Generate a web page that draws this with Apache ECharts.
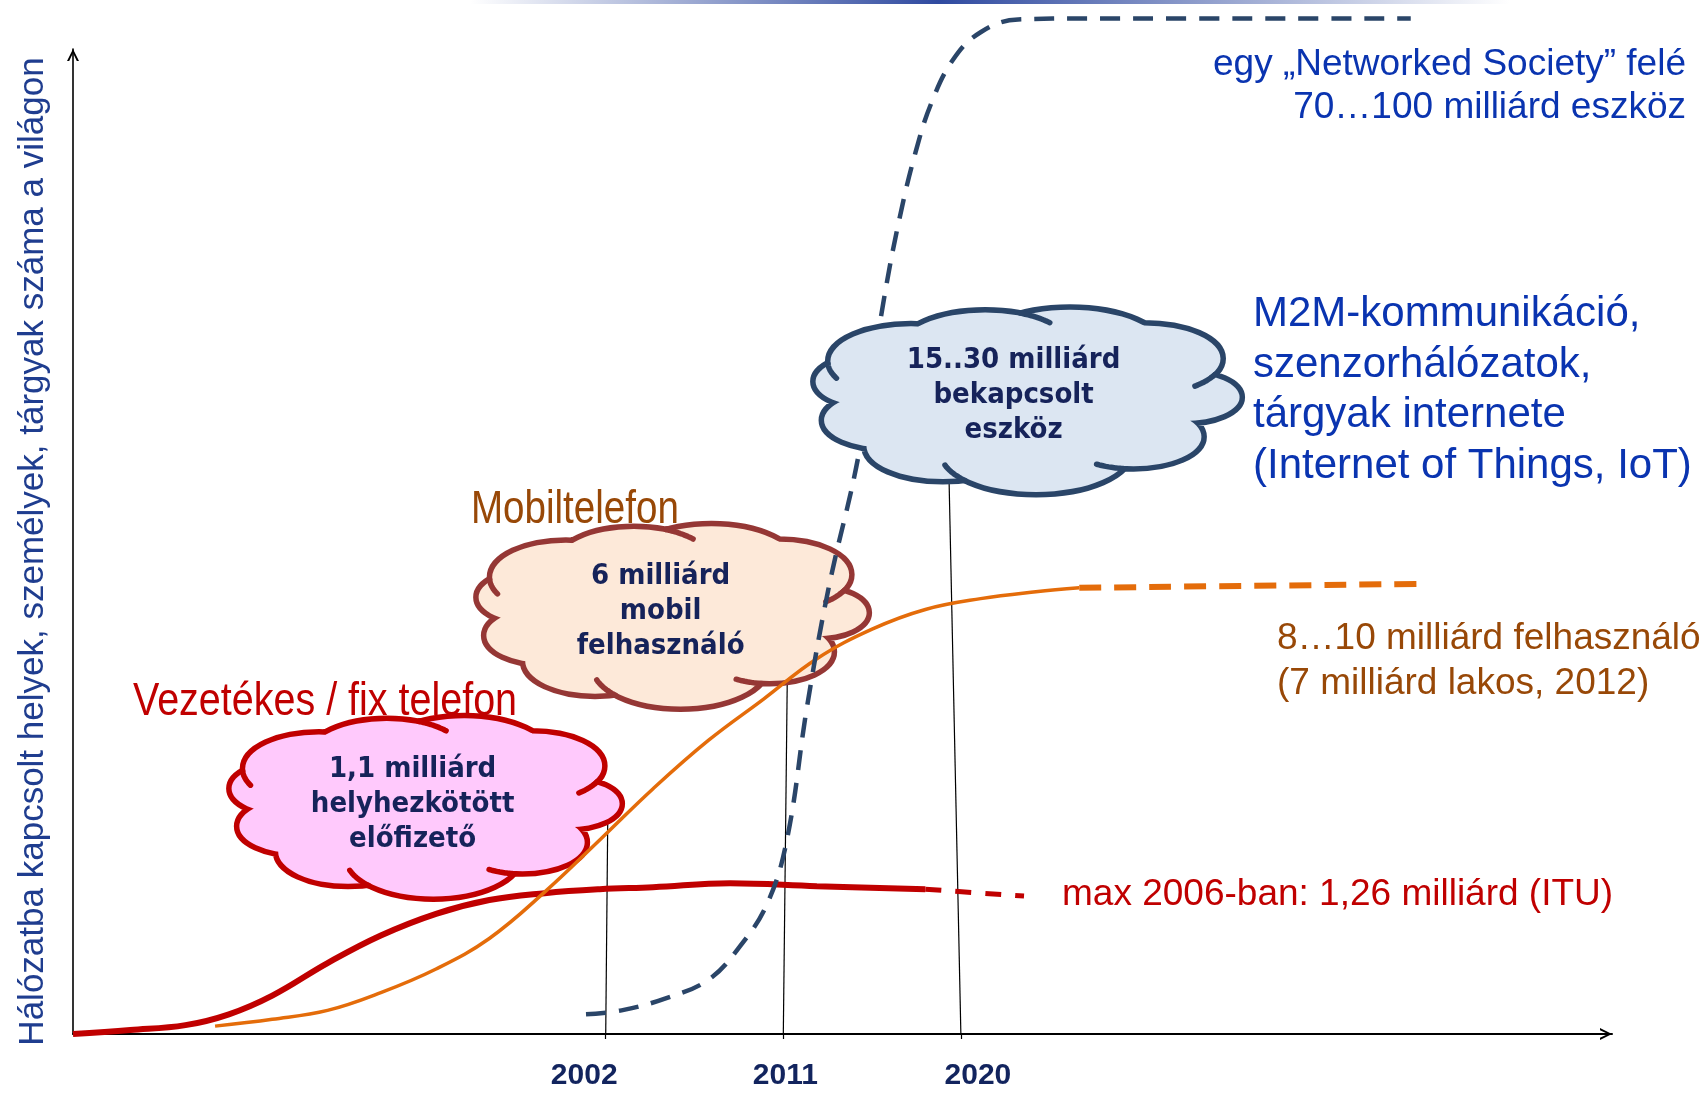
<!DOCTYPE html>
<html><head><meta charset="utf-8">
<script src="https://cdn.jsdelivr.net/npm/echarts@6/dist/echarts.min.js"></script>
<style>html,body{margin:0;padding:0;background:#fff}#c{width:1708px;height:1093px}</style>
</head><body><div id="c"></div>
<script>
// ---------------- data (x = year, y = relative number of connected things, 0..100) ----------------
const yearTicks = [2002, 2011, 2020];
const fixedSolid = [[1975.0,0],[1977.9,0.4],[1980.7,0.9],[1982.9,2.0],[1985.1,3.9],[1987.9,7.2],[1990.6,10.0],[1993.4,12.2],[1996.1,13.6],[1998.9,14.3],[2001.7,14.7],[2004.4,14.9],[2008.3,15.3],[2012.7,15.0],[2018.2,14.7]];
const fixedDashed = [[2018.2,14.7],[2023.2,14.0]];
const mobileSolid = [[1982.2,0.8],[1985.1,1.5],[1987.9,2.4],[1990.6,4.2],[1993.4,6.6],[1996.1,9.7],[1998.9,14.4],[2001.8,19.9],[2004.4,24.9],[2007.2,29.8],[2010.0,34.0],[2012.7,38.1],[2015.5,41.1],[2018.2,43.1],[2021.0,44.2],[2023.8,44.9],[2026.0,45.3]];
const mobileDashed = [[2026.0,45.3],[2043.6,45.7]];
const iotDashed = [[2001.0,2.0],[2002.8,2.4],[2005.0,3.6],[2007.2,5.5],[2008.8,8.9],[2010.2,13.3],[2011.2,19.9],[2012.2,33.2],[2013.3,45.3],[2014.8,58.6],[2016.1,74.6],[2016.9,82.9],[2017.7,89.5],[2018.5,94.5],[2019.6,98.9],[2021.0,101.7],[2022.9,103.0],[2026.5,103.1],[2042.8,103.1]];
const yearLineTops = [[2002.1,21.3],[2011.2,35.9],[2019.4,56.3]];
const yearLineBottoms = [[2002,0],[2011,0],[2020,0]];
const cloudAnchors = [[1992.87,23.1],[2005.39,42.49],[2023.38,64.37]];
const cloudTexts = [['1,1 milliárd','helyhezkötött','előfizető'],['6 milliárd','mobil','felhasználó'],['15..30 milliárd','bekapcsolt','eszköz']];
const yTitle = 'Hálózatba kapcsolt helyek, személyek, tárgyak száma a világon';
const fixedTitle = 'Vezetékes / fix telefon';
const mobileTitle = 'Mobiltelefon';
const societyLines = ['egy „Networked Society” felé','70…100 milliárd eszköz'];
const m2mLines = ['M2M-kommunikáció,','szenzorhálózatok,','tárgyak internete','(Internet of Things, IoT)'];
const usersLines = ['8…10 milliárd felhasználó','(7 milliárd lakos, 2012)'];
const fixedMaxLine = 'max 2006-ban: 1,26 milliárd (ITU)';

// ---------------- styles ----------------
const RED = '#c00000', ORANGE = '#e46c0a', NAVY = '#2a4568', BROWN = '#984807', BLUE = '#0a34b0';
const cloudStyles = [
  {a:194, b:90, fill:'#ffc9fc', stroke:'#c00000', dx:-13, dy:-2},
  {a:194, b:91, fill:'#fde9d9', stroke:'#953735', dx:-12, dy:-4},
  {a:212, b:92, fill:'#dce6f2', stroke:'#2a4568', dx:-14, dy:-4}
];
// cloud bumps in a unit box: [cx, cy, r]
const bumps = [[-0.72,-0.20,0.28],[-0.66,0.22,0.30],[-0.40,0.50,0.36],[0.04,0.56,0.44],[0.50,0.40,0.32],[0.74,-0.03,0.26],[0.55,-0.45,0.36],[0.20,-0.54,0.44],[-0.20,-0.55,0.40],[-0.55,-0.42,0.38],[0,0,0.66]];
// interior curls: bump A continues into bump B
const curls = [[9,0],[3,2],[4,3],[6,5],[8,7]];
const CLOUD_W = 5.5;
const CLOUD_FONT = 'bold 29px "DejaVu Sans Condensed", "DejaVu Sans", sans-serif';
const CLOUD_TEXT = '#16235a';

function ellipsePath(x, y, rx, ry) {
  return 'M' + (x - rx) + ' ' + y + ' A' + rx + ' ' + ry + ' 0 1 0 ' + (x + rx) + ' ' + y +
         ' A' + rx + ' ' + ry + ' 0 1 0 ' + (x - rx) + ' ' + y + ' Z ';
}
function inside(p, e) {
  const dx = (p[0] - e.x) / e.rx, dy = (p[1] - e.y) / e.ry;
  return dx * dx + dy * dy < 1;
}
function curlPath(ells, ai, bi) {
  const A = ells[ai], B = ells[bi], N = 720, delta = 0.42;
  const pt = function (t) { return [A.x + A.rx * Math.cos(t), A.y + A.ry * Math.sin(t)]; };
  const outer = function (p) {
    for (let k = 0; k < ells.length; k++) { if (k !== ai && k !== bi && inside(p, ells[k])) return false; }
    return true;
  };
  for (let j = 0; j < N; j++) {
    for (let dir = -1; dir <= 1; dir += 2) {
      const t0 = j / N * 2 * Math.PI, t1 = t0 + dir * 2 * Math.PI / N;
      const p0 = pt(t0), p1 = pt(t1);
      if (!inside(p0, B) && outer(p0) && inside(p1, B)) {
        let d = '';
        for (let s = 0; s <= 20; s++) {
          const q = pt(t0 + dir * delta * s / 20);
          d += (s ? 'L' : 'M') + q[0].toFixed(1) + ' ' + q[1].toFixed(1) + ' ';
        }
        return d;
      }
    }
  }
  return '';
}
function cloudRender(params, api) {
  const i = api.value(2);
  const st = cloudStyles[i];
  const c = api.coord([api.value(0), api.value(1)]);
  const ells = bumps.map(function (b) { return {x:c[0] + b[0] * st.a, y:c[1] + b[1] * st.b, rx:b[2] * st.a, ry:b[2] * st.b}; });
  const grown = ells.map(function (e) { return {x:e.x, y:e.y, rx:e.rx + CLOUD_W / 2, ry:e.ry + CLOUD_W / 2}; });
  let d = '';
  ells.forEach(function (e) { d += ellipsePath(e.x, e.y, e.rx, e.ry); });
  let cd = '';
  curls.forEach(function (p) { cd += curlPath(grown, p[0], p[1]); });
  const children = [
    {type:'path', shape:{pathData:d}, style:{fill:st.fill, stroke:st.stroke, lineWidth:CLOUD_W * 2}},
    {type:'path', shape:{pathData:d}, style:{fill:st.fill, stroke:null}},
    {type:'path', shape:{pathData:cd}, style:{fill:null, stroke:st.stroke, lineWidth:CLOUD_W, lineCap:'round'}}
  ];
  cloudTexts[i].forEach(function (t, k) {
    children.push({type:'text', x:c[0] + st.dx, y:c[1] + st.dy + (k - 1) * 35,
      style:{text:t, font:CLOUD_FONT, fill:CLOUD_TEXT, textAlign:'center', textVerticalAlign:'middle', align:'center', verticalAlign:'middle'}});
  });
  return {type:'group', children:children};
}

function lineSeries(data, color, width, type, z) {
  return {type:'line', data:data, smooth:0.4, showSymbol:false, symbol:'none', clip:false, z:z || 3,
    lineStyle:{color:color, width:width, type:type || 'solid', cap:'butt'}, silent:true};
}

const series = [];
yearLineTops.forEach(function (t, k) {
  series.push({type:'line', data:[t, yearLineBottoms[k]], showSymbol:false, symbol:'none', clip:false, z:1,
    lineStyle:{color:'#000', width:1.2}, silent:true});
});
series.push({type:'custom', renderItem:cloudRender, z:2, silent:true,
  data:cloudAnchors.slice(0,2).map(function (p, k) { return [p[0], p[1], k]; })});
series.push(lineSeries(fixedSolid, RED, 6));
series.push(lineSeries(fixedDashed, RED, 5, [16,14]));
series.push(lineSeries(mobileSolid, ORANGE, 3.5));
series.push(lineSeries(mobileDashed, ORANGE, 6, [22,13]));
series.push(lineSeries(iotDashed, NAVY, 4.5, [20,13]));
series.push({type:'custom', renderItem:cloudRender, z:6, silent:true,
  data:[[cloudAnchors[2][0], cloudAnchors[2][1], 2]]});

function txt(x, y, text, size, color, align, scaleX) {
  return {type:'text', x:x, y:y, scaleX:scaleX || 1, z:100,
    style:{text:text, font:size + 'px "Liberation Sans", Arial, sans-serif', fill:color,
      textAlign:align, textVerticalAlign:'middle', align:align, verticalAlign:'middle'}};
}
const graphics = [
  {type:'rect', z:100, shape:{x:470, y:0, width:1040, height:4},
   style:{fill:new echarts.graphic.LinearGradient(0,0,1,0,[{offset:0,color:'rgba(47,74,160,0)'},{offset:0.45,color:'#2f4aa0'},{offset:1,color:'rgba(47,74,160,0)'}])}},
  txt(133, 702, fixedTitle, 47, RED, 'left', 0.84),
  txt(471, 510, mobileTitle, 47, BROWN, 'left', 0.82),
  txt(1062, 895, fixedMaxLine, 37, RED, 'left')
];
[65, 108].forEach(function (y, k) { graphics.push(txt(1686, y, societyLines[k], 37, BLUE, 'right')); });
[314, 365, 415, 466].forEach(function (y, k) { graphics.push(txt(1253, y, m2mLines[k], 42, BLUE, 'left')); });
[639, 684].forEach(function (y, k) { graphics.push(txt(1277, y, usersLines[k], 37, BROWN, 'left')); });

const chevron = 'path://M0,12 L6,0 L12,12 L9.8,12 L6,4 L2.2,12 Z';
const labelKey = {2002:'a', 2011:'b', 2020:'c'};
const yearFont = {fontSize:30, fontWeight:'bold', color:'#12245e', fontFamily:'"Liberation Sans", Arial, sans-serif'};

const option = {
  animation:false,
  backgroundColor:'#fff',
  grid:{left:73, right:96, top:49, bottom:59},
  xAxis:{type:'value', min:1975, max:2053,
    axisLine:{show:true, lineStyle:{color:'#000', width:2}, symbol:['none', chevron], symbolSize:[14,12], symbolOffset:[0,-6]},
    axisTick:{show:true, customValues:yearTicks, length:5, lineStyle:{color:'#000', width:1.2}},
    axisLabel:{show:true, customValues:yearTicks, margin:27,
      formatter:function (v) { return '{' + labelKey[v] + '|' + v + '}'; },
      rich:{a:Object.assign({padding:[0,43,0,0]}, yearFont), b:Object.assign({padding:[0,0,0,4]}, yearFont), c:Object.assign({padding:[0,0,0,34]}, yearFont)}},
    splitLine:{show:false}},
  yAxis:{type:'value', min:0, max:100,
    name:yTitle, nameLocation:'middle', nameGap:22, nameRotate:90,
    nameTextStyle:{fontSize:35, color:'#1f3d8f', fontFamily:'"Liberation Sans", Arial, sans-serif', padding:[0,20,0,0]},
    axisLine:{show:true, lineStyle:{color:'#000', width:1.6}, symbol:['none', chevron], symbolSize:[14,12], symbolOffset:[0,-6]},
    axisTick:{show:false}, axisLabel:{show:false}, splitLine:{show:false}},
  series:series,
  graphic:graphics
};
const chart = echarts.init(document.getElementById('c'), null, {renderer:'canvas'});
chart.setOption(option);
</script>
</body></html>
